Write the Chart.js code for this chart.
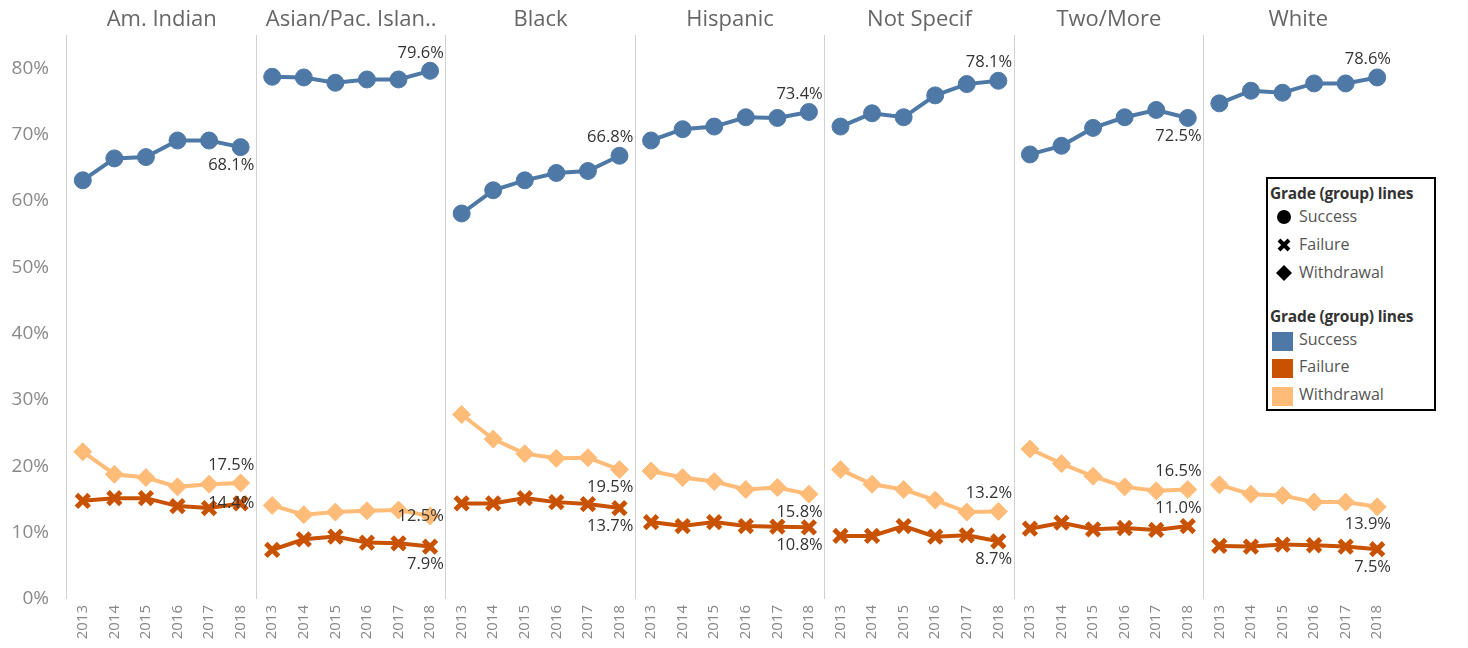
<!DOCTYPE html>
<html>
<head>
<meta charset="utf-8">
<script src="https://cdn.jsdelivr.net/npm/chart.js@4"></script>
<style>
  html, body { margin: 0; padding: 0; background: #fff; }
  #wrap { position: relative; width: 1468px; height: 648px; }
  canvas { position: absolute; left: 0; top: 0; }
  #legend { position: absolute; left: 1266px; top: 177px; width: 166px; height: 230px;
    border: 2px solid #000; background: #fff; font-family: "Open Sans", sans-serif; color: #333; }
  #legend .t { position: absolute; left: 2px; font-size: 15.5px; font-weight: bold; color: #333; white-space: nowrap; letter-spacing: -0.2px; }
  #legend .i { position: absolute; left: 31px; font-size: 16px; color: #555; white-space: nowrap; }
  #legend svg, #legend .sw { position: absolute; }
  #legend .sw { left: 4px; width: 21px; height: 19px; }
</style>
</head>
<body>
<div id="wrap">
  <canvas id="c" width="1468" height="648"></canvas>
  <div id="legend">
    <div class="t" style="top:3px">Grade (group) lines</div>
    <svg style="left:8px;top:30px" width="16" height="16"><circle cx="8" cy="8" r="7" fill="#000"/></svg>
    <div class="i" style="top:26px">Success</div>
    <svg style="left:9px;top:59px" width="14" height="14"><path d="M2 2 L12 12 M12 2 L2 12" stroke="#000" stroke-width="4"/></svg>
    <div class="i" style="top:54px">Failure</div>
    <svg style="left:7px;top:85px" width="18" height="18"><path d="M9 1 L17 9 L9 17 L1 9 Z" fill="#000"/></svg>
    <div class="i" style="top:82px">Withdrawal</div>
    <div class="t" style="top:126px">Grade (group) lines</div>
    <div class="sw" style="top:153px;background:#4e79a7"></div>
    <div class="i" style="top:149px">Success</div>
    <div class="sw" style="top:180px;background:#c85200"></div>
    <div class="i" style="top:176px">Failure</div>
    <div class="sw" style="top:208px;background:#ffbc79"></div>
    <div class="i" style="top:204px">Withdrawal</div>
  </div>
</div>
<script>
const categories = ['Am. Indian', 'Asian/Pac. Islan..', 'Black', 'Hispanic', 'Not Specif', 'Two/More', 'White'];
const years = ['2013', '2014', '2015', '2016', '2017', '2018'];
const yTicks = [0, 10, 20, 30, 40, 50, 60, 70, 80];

const success = [
  [63.1, 66.4, 66.6, 69.1, 69.1, 68.1],
  [78.7, 78.6, 77.8, 78.3, 78.3, 79.6],
  [58.1, 61.6, 63.1, 64.2, 64.5, 66.8],
  [69.1, 70.8, 71.2, 72.6, 72.5, 73.4],
  [71.2, 73.2, 72.6, 75.9, 77.6, 78.1],
  [67.0, 68.3, 71.0, 72.6, 73.7, 72.5],
  [74.7, 76.6, 76.3, 77.7, 77.7, 78.6]
];
const failure = [
  [14.8, 15.2, 15.2, 14.0, 13.7, 14.4],
  [7.4, 9.0, 9.4, 8.5, 8.4, 7.9],
  [14.4, 14.4, 15.2, 14.6, 14.3, 13.7],
  [11.6, 11.0, 11.6, 11.0, 10.9, 10.8],
  [9.5, 9.5, 11.0, 9.4, 9.6, 8.7],
  [10.6, 11.5, 10.5, 10.7, 10.4, 11.0],
  [8.0, 7.9, 8.2, 8.1, 7.9, 7.5]
];
const withdrawal = [
  [22.2, 18.8, 18.3, 16.9, 17.3, 17.5],
  [14.1, 12.7, 13.1, 13.3, 13.4, 12.5],
  [27.8, 24.1, 21.9, 21.2, 21.3, 19.5],
  [19.3, 18.3, 17.7, 16.5, 16.8, 15.8],
  [19.5, 17.3, 16.5, 14.9, 13.1, 13.2],
  [22.6, 20.4, 18.5, 16.9, 16.3, 16.5],
  [17.2, 15.8, 15.6, 14.6, 14.6, 13.9]
];

// where each last-point label sits relative to its mark, per panel
const successLabelPos = ['below', 'above', 'above', 'above', 'above', 'below', 'above'];
const failureLabelPos = ['middle', 'below', 'below', 'below', 'below', 'above', 'below'];
const withdrawalLabelPos = ['above', 'middle', 'below', 'below', 'above', 'above', 'below'];

const FONT = '"Open Sans", "Noto Sans", sans-serif';
const N = years.length;
const labels = categories.flatMap(() => years);

function series(label, rows, color, style, radius, pbw, labelPos) {
  return {
    label, data: rows.flat(), labelPos,
    borderColor: color, backgroundColor: color,
    pointBackgroundColor: color, pointBorderColor: color,
    pointStyle: style, pointRadius: radius, pointBorderWidth: pbw,
    borderWidth: 4, tension: 0,
    segment: { borderColor: ctx => (ctx.p0DataIndex % N === N - 1) ? 'transparent' : color }
  };
}

const datasets = [
  series('Withdrawal', withdrawal, '#ffbc79', 'rectRot', 9, 1, withdrawalLabelPos),
  series('Failure', failure, '#c85200', 'crossRot', 9, 5, failureLabelPos),
  series('Success', success, '#4e79a7', 'circle', 8.5, 1, successLabelPos)
];

const panelPlugin = {
  id: 'panels',
  afterDatasetsDraw(chart) {
    const ctx = chart.ctx;
    const xs = chart.scales.x;
    const half = (xs.getPixelForTick(1) - xs.getPixelForTick(0)) / 2;
    ctx.save();
    // data labels on the last point of each panel
    ctx.font = '16.5px ' + FONT;
    ctx.fillStyle = '#333';
    ctx.textAlign = 'right';
    ctx.textBaseline = 'middle';
    chart.data.datasets.forEach((ds, di) => {
      const meta = chart.getDatasetMeta(di);
      categories.forEach((c, p) => {
        const i = p * N + N - 1;
        const pt = meta.data[i];
        const v = ds.data[i];
        const pos = ds.labelPos[p];
        const dy = pos === 'above' ? -18 : pos === 'below' ? 18 : 0;
        ctx.fillText(v.toFixed(1) + '%', pt.x + half - 2, pt.y + dy);
      });
    });
    // panel titles
    ctx.font = '22px ' + FONT;
    ctx.fillStyle = '#666';
    ctx.textAlign = 'center';
    ctx.textBaseline = 'middle';
    categories.forEach((c, p) => {
      const x = (xs.getPixelForTick(p * N) + xs.getPixelForTick(p * N + N - 1)) / 2;
      ctx.fillText(c, x, 20);
    });
    ctx.restore();
  }
};

new Chart(document.getElementById('c'), {
  type: 'line',
  data: { labels, datasets },
  plugins: [panelPlugin],
  options: {
    responsive: false,
    animation: false,
    events: [],
    layout: { padding: { top: 35, right: 75, bottom: 0, left: 0 } },
    plugins: { legend: { display: false }, tooltip: { enabled: false } },
    scales: {
      x: {
        type: 'category',
        offset: true,
        grid: {
          offset: true,
          drawTicks: false,
          lineWidth: 1,
          color: ctx => (ctx.index % N === 0) ? '#d0d0d0' : 'transparent'
        },
        border: { display: false },
        ticks: {
          autoSkip: false, minRotation: 90, maxRotation: 90, padding: 6,
          color: '#888', font: { family: FONT, size: 15 }
        },
        afterFit: s => { s.height = 49; }
      },
      y: {
        min: 0, max: 85,
        grid: { display: false },
        border: { display: false },
        afterBuildTicks: s => { s.ticks = yTicks.map(v => ({ value: v })); },
        ticks: {
          padding: 10,
          color: '#8a8a8a', font: { family: FONT, size: 19 },
          callback: v => v + '%'
        },
        afterFit: s => { s.width = 67; }
      }
    }
  }
});
</script>
</body>
</html>
